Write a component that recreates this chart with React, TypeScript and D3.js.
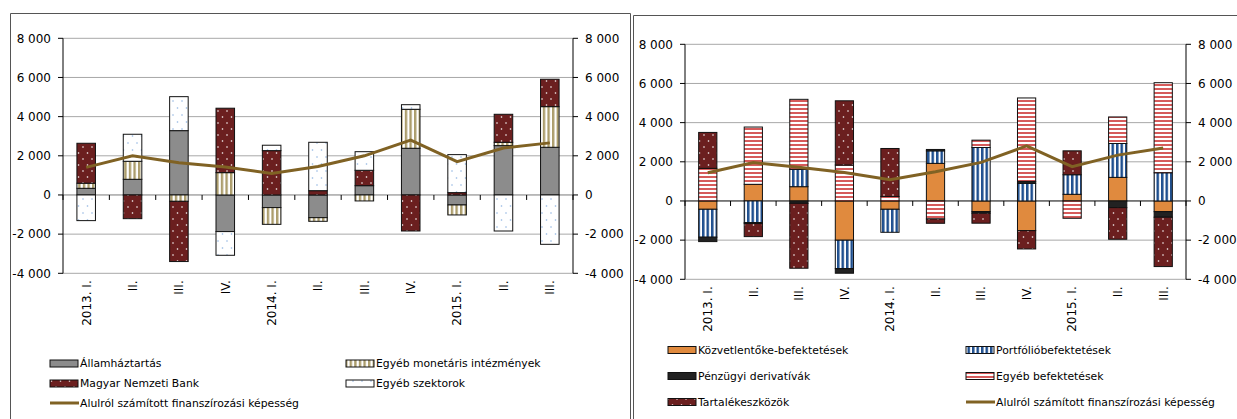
import React from 'react';
import * as d3 from 'd3';

// categories shared by both panels
const quarters = ['2013. I.', 'II.', 'III.', 'IV.', '2014. I.', 'II.', 'III.', 'IV.', '2015. I.', 'II.', 'III.'];
const yTicks = [-4000, -2000, 0, 2000, 4000, 6000, 8000];

// left panel: by sector
const allamhaztartas = [340, 800, 3285, -1870, -645, -1160, 475, 2385, -510, 2520, 2435];
const egyebMonetaris = [260, 920, -325, 1140, -855, -185, -305, 1990, -510, 170, 2075];
const magyarNemzetiBank = [2040, -1210, -3075, 3290, 2265, 220, 785, -1840, 120, 1430, 1400];
const egyebSzektorok = [-1310, 1380, 1735, -1210, 275, 2470, 950, 235, 1940, -1840, -2520];
const kepessegLeft = [1410, 2000, 1650, 1430, 1100, 1450, 2000, 2800, 1700, 2400, 2660];

// right panel: by instrument
const kozvetlenToke = [-425, 850, 730, -2005, -425, 1920, -545, -1515, 340, 1205, -545];
const portfolio = [-1425, -1105, 885, -1450, -1175, 640, 2730, 900, 1000, 1730, 1440];
const derivativak = [-225, -50, -120, -235, 0, 70, -80, 100, 0, -340, -285];
const egyebBefektetesek = [1665, 2925, 3575, 1835, 230, -920, 375, 4260, -885, 1355, 4600];
const tartalekeszkozok = [1835, -665, -3315, 3280, 2450, -220, -510, -935, 1220, -1615, -2520];
const kepessegRight = [1440, 1960, 1720, 1450, 1080, 1490, 1970, 2810, 1750, 2340, 2710];

const lineLabel = 'Alulról számított finanszírozási képesség';

const fmt = d3
  .formatLocale({ decimal: ',', thousands: ' ', grouping: [3], currency: ['', ''], minus: '-' })
  .format(',');

const axisFont = "'DejaVu Sans', Verdana, sans-serif";
const lineColor = '#806224';

type Series = { key: string; label: string; values: number[]; fill: string; col: number; row: number };

type PanelProps = {
  series: Series[];
  line: number[];
  lineCol: number;
  lineRow: number;
  x0: number;
  x1: number;
  yTop: number;
  yBottom: number;
  zeroColor: string;
  legendCols: number[];
  legendRows: number[];
};

function Panel({ series, line, lineCol, lineRow, x0, x1, yTop, yBottom, zeroColor, legendCols, legendRows }: PanelProps) {
  const idx = quarters.map((_, i) => i);
  const x = d3.scaleBand<number>().domain(idx).range([x0, x1]).paddingInner(0.6).paddingOuter(0.3);
  const y = d3.scaleLinear().domain([-4000, 8000]).range([yBottom, yTop]);
  const step = (x1 - x0) / quarters.length;

  const rows = idx.map((i) => {
    const r: Record<string, number> = {};
    series.forEach((s) => (r[s.key] = s.values[i]));
    return r;
  });
  const stacked = d3
    .stack<Record<string, number>>()
    .keys(series.map((s) => s.key))
    .offset(d3.stackOffsetDiverging)(rows);

  const lineGen = d3
    .line<number>()
    .x((_, i) => (x(i) as number) + x.bandwidth() / 2)
    .y((d) => y(d));

  return (
    <g>
      {/* gridlines */}
      {yTicks.map((t) => (
        <line key={'g' + t} x1={x0} x2={x1} y1={y(t)} y2={y(t)} stroke={t === 0 ? zeroColor : '#a8a8a8'} strokeWidth={1} />
      ))}
      {/* axes */}
      <line x1={x0} x2={x0} y1={yTop} y2={yBottom} stroke="#000" />
      <line x1={x1} x2={x1} y1={yTop} y2={yBottom} stroke="#000" />
      {yTicks.map((t) => (
        <g key={'t' + t}>
          <line x1={x0 - 5} x2={x0} y1={y(t)} y2={y(t)} stroke="#000" />
          <line x1={x1} x2={x1 + 5} y1={y(t)} y2={y(t)} stroke="#000" />
          <text x={x0 - 12} y={y(t)} dy="0.36em" textAnchor="end" fontFamily={axisFont} fontSize={12}>
            {fmt(t)}
          </text>
          <text x={x1 + 12} y={y(t)} dy="0.36em" fontFamily={axisFont} fontSize={12}>
            {fmt(t)}
          </text>
        </g>
      ))}
      {/* category ticks on the zero line */}
      {d3.range(quarters.length + 1).map((i) => (
        <line key={'c' + i} x1={x0 + i * step} x2={x0 + i * step} y1={y(0)} y2={y(0) + 5} stroke="#000" />
      ))}
      {/* bars */}
      {stacked.map((layer, li) =>
        layer.map((d, i) => {
          if (d[0] === d[1]) return null;
          const top = y(Math.max(d[0], d[1]));
          const h = Math.abs(y(d[0]) - y(d[1]));
          return (
            <rect
              key={layer.key + i}
              x={x(i)}
              y={top}
              width={x.bandwidth()}
              height={h}
              fill={series[li].fill}
              stroke="#111"
              strokeWidth={1}
            />
          );
        })
      )}
      <path d={lineGen(line) || ''} fill="none" stroke={lineColor} strokeWidth={3} />
      {/* category labels */}
      {quarters.map((q, i) => (
        <text
          key={'q' + i}
          transform={`translate(${(x(i) as number) + x.bandwidth() / 2},${yBottom + 7}) rotate(-90)`}
          dy="0.36em"
          textAnchor="end"
          fontFamily={axisFont}
          fontSize={12}
        >
          {q}
        </text>
      ))}
      {/* legend */}
      {series.map((s) => {
        const lx = legendCols[s.col];
        const ly = legendRows[s.row];
        return (
          <g key={'l' + s.key}>
            <rect x={lx} y={ly - 3.5} width={28} height={7} fill={s.fill} stroke="#111" />
            <text x={lx + 30} y={ly} dy="0.36em" fontFamily={axisFont} fontSize={10.8}>
              {s.label}
            </text>
          </g>
        );
      })}
      <line
        x1={legendCols[lineCol]}
        x2={legendCols[lineCol] + 29}
        y1={legendRows[lineRow]}
        y2={legendRows[lineRow]}
        stroke={lineColor}
        strokeWidth={3}
      />
      <text x={legendCols[lineCol] + 30} y={legendRows[lineRow]} dy="0.36em" fontFamily={axisFont} fontSize={10.8}>
        {lineLabel}
      </text>
    </g>
  );
}

export default function App() {
  const leftSeries: Series[] = [
    { key: 'aht', label: 'Államháztartás', values: allamhaztartas, fill: '#8c8c8c', col: 0, row: 0 },
    { key: 'emi', label: 'Egyéb monetáris intézmények', values: egyebMonetaris, fill: 'url(#vTan)', col: 1, row: 0 },
    { key: 'mnb', label: 'Magyar Nemzeti Bank', values: magyarNemzetiBank, fill: 'url(#dotsMaroon)', col: 0, row: 1 },
    { key: 'esz', label: 'Egyéb szektorok', values: egyebSzektorok, fill: 'url(#dotsBlue)', col: 1, row: 1 },
  ];
  const rightSeries: Series[] = [
    { key: 'ktb', label: 'Közvetlentőke-befektetések', values: kozvetlenToke, fill: '#e08a3e', col: 0, row: 0 },
    { key: 'pf', label: 'Portfólióbefektetések', values: portfolio, fill: 'url(#vBlue)', col: 1, row: 0 },
    { key: 'der', label: 'Pénzügyi derivatívák', values: derivativak, fill: '#222222', col: 0, row: 1 },
    { key: 'eb', label: 'Egyéb befektetések', values: egyebBefektetesek, fill: 'url(#hRed)', col: 1, row: 1 },
    { key: 'tart', label: 'Tartalékeszközök', values: tartalekeszkozok, fill: 'url(#dotsMaroon)', col: 0, row: 2 },
  ];

  return (
    <svg width={1237} height={419} style={{ position: 'absolute', left: 0, top: 0, background: '#fff' }}>
      <defs>
        <pattern id="vTan" width={4.6} height={10} patternUnits="userSpaceOnUse">
          <rect width={4.6} height={10} fill="#fff" />
          <rect width={2.4} height={10} fill="#ac9d6c" />
        </pattern>
        <pattern id="vBlue" width={4.5} height={10} patternUnits="userSpaceOnUse">
          <rect width={4.5} height={10} fill="#fff" />
          <rect width={2.5} height={10} fill="#1f4f8f" />
        </pattern>
        <pattern id="hRed" width={10} height={4} patternUnits="userSpaceOnUse">
          <rect width={10} height={4} fill="#fff" />
          <rect width={10} height={2} fill="#d65b5b" />
        </pattern>
        <pattern id="dotsMaroon" width={9} height={12} patternUnits="userSpaceOnUse">
          <rect width={9} height={12} fill="#6b1f1f" />
          <circle cx={2} cy={3} r={0.8} fill="#fff" />
          <circle cx={6.5} cy={9} r={0.8} fill="#fff" />
        </pattern>
        <pattern id="dotsBlue" width={9} height={14} patternUnits="userSpaceOnUse">
          <rect width={9} height={14} fill="#fff" />
          <circle cx={2} cy={3} r={0.8} fill="#8fb4e3" />
          <circle cx={6.5} cy={10} r={0.8} fill="#8fb4e3" />
        </pattern>
      </defs>
      {/* panel frames */}
      <path d="M10.5,419 V13.5 H630.5 V419" fill="none" stroke="#555" />
      <path d="M633.5,419 V15.5 H1237" fill="none" stroke="#555" />

      <Panel
        series={leftSeries}
        line={kepessegLeft}
        lineCol={0}
        lineRow={2}
        x0={63}
        x1={573}
        yTop={38.3}
        yBottom={273.3}
        zeroColor="#7a7a7a"
        legendCols={[50, 346]}
        legendRows={[363.5, 383.5, 403]}
      />
      <Panel
        series={rightSeries}
        line={kepessegRight}
        lineCol={1}
        lineRow={2}
        x0={685}
        x1={1186}
        yTop={44.3}
        yBottom={279.3}
        zeroColor="#000"
        legendCols={[668, 966]}
        legendRows={[350, 376, 402]}
      />
    </svg>
  );
}
